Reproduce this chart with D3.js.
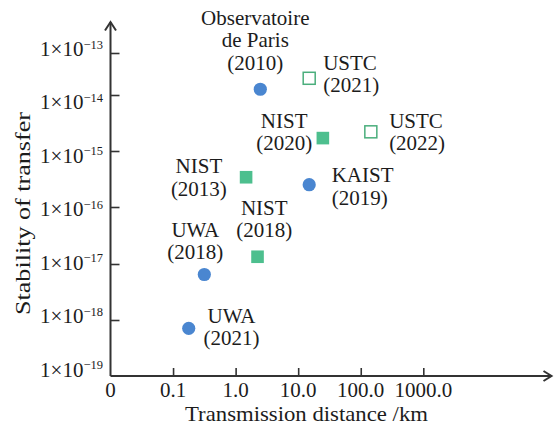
<!DOCTYPE html>
<html>
<head>
<meta charset="utf-8">
<script src="https://cdn.jsdelivr.net/npm/d3@7"></script>
<style>
  html, body { margin: 0; padding: 0; background: #fff; }
  svg text { font-family: "Liberation Serif", "Times New Roman", Tinos, serif; fill: #1c1c1c; }
</style>
</head>
<body>
<svg id="chart" width="556" height="426" font-family="Liberation Serif"></svg>
<script>
// ---- data ----
const names = ["Observatoire|de Paris", "USTC", "NIST", "USTC", "KAIST", "NIST", "NIST", "UWA", "UWA"];
const years = [2010, 2021, 2020, 2022, 2019, 2013, 2018, 2018, 2021];
const distances = [2.48, 15, 24.8, 145, 15, 1.47, 2.24, 0.316, 0.178];          // km
const stabilities = [1.37e-14, 2.5e-14, 1.7e-15, 2.2e-15, 2.5e-16, 3.4e-16, 1.34e-17, 6.5e-18, 7.1e-19];
const kinds = ["circle", "hollow", "square", "hollow", "circle", "square", "square", "circle", "circle"];

const xTickValues = [0.1, 1, 10, 100, 1000];
const xTickLabels = ["0.1", "1.0", "10.0", "100.0", "1000.0"];
const yTickValues = [1e-19, 1e-18, 1e-17, 1e-16, 1e-15, 1e-14, 1e-13];
const yTickExponents = ["−19", "−18", "−17", "−16", "−15", "−14", "−13"];

// ---- layout (label placement relative to each mark) ----
const labelLayout = [
  { dx: -5, dy: -64.3, anchor: "middle" },
  { dx: 14, dy: -8.3, anchor: "start" },
  { dx: -38.7, dy: -10, anchor: "middle" },
  { dx: 18.3, dy: -3.7, anchor: "start" },
  { dx: 22.5, dy: -2.3, anchor: "start" },
  { dx: -47.2, dy: -4, anchor: "middle" },
  { dx: 6.7, dy: -41.7, anchor: "middle" },
  { dx: -9, dy: -37.8, anchor: "middle" },
  { dx: 42.7, dy: -5.3, anchor: "middle" }
];
const lineGap = 22.3;
const fs = 21;

const svg = d3.select("#chart");
const axisColor = "#333";
const x0 = 110.5, yBase = 376;

// scales
const x = d3.scaleLog().domain([0.01, 1000]).range([x0, 423.3]);
const y = d3.scaleLog().domain(yTickValues).range([yBase, 320, 264, 207, 151, 95, 53]);
const yLabel = d3.scaleLog().domain([1e-19, 1e-13]).range([376.7, 56]);

// axes lines with arrows
svg.append("line").attr("x1", x0).attr("y1", yBase).attr("x2", x0).attr("y2", 22)
  .attr("stroke", axisColor).attr("stroke-width", 2);
svg.append("path").attr("d", `M${x0-5.5},30.5 L${x0},22 L${x0+5.5},30.5`)
  .attr("fill", "none").attr("stroke", axisColor).attr("stroke-width", 2);
svg.append("line").attr("x1", x0).attr("y1", yBase).attr("x2", 551.5).attr("y2", yBase)
  .attr("stroke", axisColor).attr("stroke-width", 2);
svg.append("path").attr("d", `M543.5,${yBase-5} L551.5,${yBase} L543.5,${yBase+5}`)
  .attr("fill", "none").attr("stroke", axisColor).attr("stroke-width", 2);

// y ticks (inward)
const yAxis = d3.axisRight(y).tickValues(yTickValues.slice(1)).tickSize(9).tickFormat("");
const gy = svg.append("g").attr("transform", `translate(${x0},0)`).call(yAxis);
gy.select(".domain").remove();
gy.selectAll(".tick line").attr("stroke", axisColor).attr("stroke-width", 1.6);

// y tick labels
const yl = svg.append("g");
yTickValues.forEach((v, i) => {
  const t = yl.append("text").attr("x", 103).attr("y", yLabel(v))
    .attr("text-anchor", "end").attr("font-size", fs);
  t.append("tspan").text("1×10");
  t.append("tspan").attr("dy", -7.5).attr("font-size", 12.5).text(yTickExponents[i]);
});

// x ticks (inward)
const xAxis = d3.axisTop(x).tickValues(xTickValues).tickSize(8).tickFormat("");
const gx = svg.append("g").attr("transform", `translate(0,${yBase})`).call(xAxis);
gx.select(".domain").remove();
gx.selectAll(".tick line").attr("stroke", axisColor).attr("stroke-width", 1.6);

// x tick labels
svg.append("text").attr("x", x(0.01)).attr("y", 397).attr("text-anchor", "middle")
  .attr("font-size", fs).text("0");
xTickValues.forEach((v, i) => {
  svg.append("text").attr("x", x(v)).attr("y", 397).attr("text-anchor", "middle")
    .attr("font-size", fs).text(xTickLabels[i]);
});

// axis titles
svg.append("text").attr("x", 306.5).attr("y", 421).attr("text-anchor", "middle")
  .attr("font-size", 21).attr("textLength", 243).attr("lengthAdjust", "spacingAndGlyphs")
  .text("Transmission distance /km");
svg.append("text").attr("transform", "translate(29.5,213.5) rotate(-90)")
  .attr("text-anchor", "middle").attr("font-size", 21)
  .attr("textLength", 203).attr("lengthAdjust", "spacingAndGlyphs")
  .text("Stability of transfer");

// marks
const blue = "#4a86d0", green = "#4dbf8e", greenStroke = "#4aae7c";
const marks = svg.append("g");
distances.forEach((d, i) => {
  const cx = x(d), cy = y(stabilities[i]);
  if (kinds[i] === "circle") {
    marks.append("circle").attr("cx", cx).attr("cy", cy).attr("r", 6.6).attr("fill", blue);
  } else if (kinds[i] === "square") {
    marks.append("rect").attr("x", cx - 6.3).attr("y", cy - 6.3).attr("width", 12.6).attr("height", 12.6)
      .attr("fill", green);
  } else {
    marks.append("rect").attr("x", cx - 6).attr("y", cy - 6).attr("width", 12).attr("height", 12)
      .attr("fill", "none").attr("stroke", greenStroke).attr("stroke-width", 1.5);
  }
  // label
  const L = labelLayout[i];
  const lines = names[i].split("|").concat([`(${years[i]})`]);
  const t = svg.append("text").attr("font-size", fs).attr("text-anchor", L.anchor);
  lines.forEach((ln, k) => {
    t.append("tspan").attr("x", cx + L.dx).attr("y", cy + L.dy + k * lineGap).text(ln);
  });
});
</script>
</body>
</html>
